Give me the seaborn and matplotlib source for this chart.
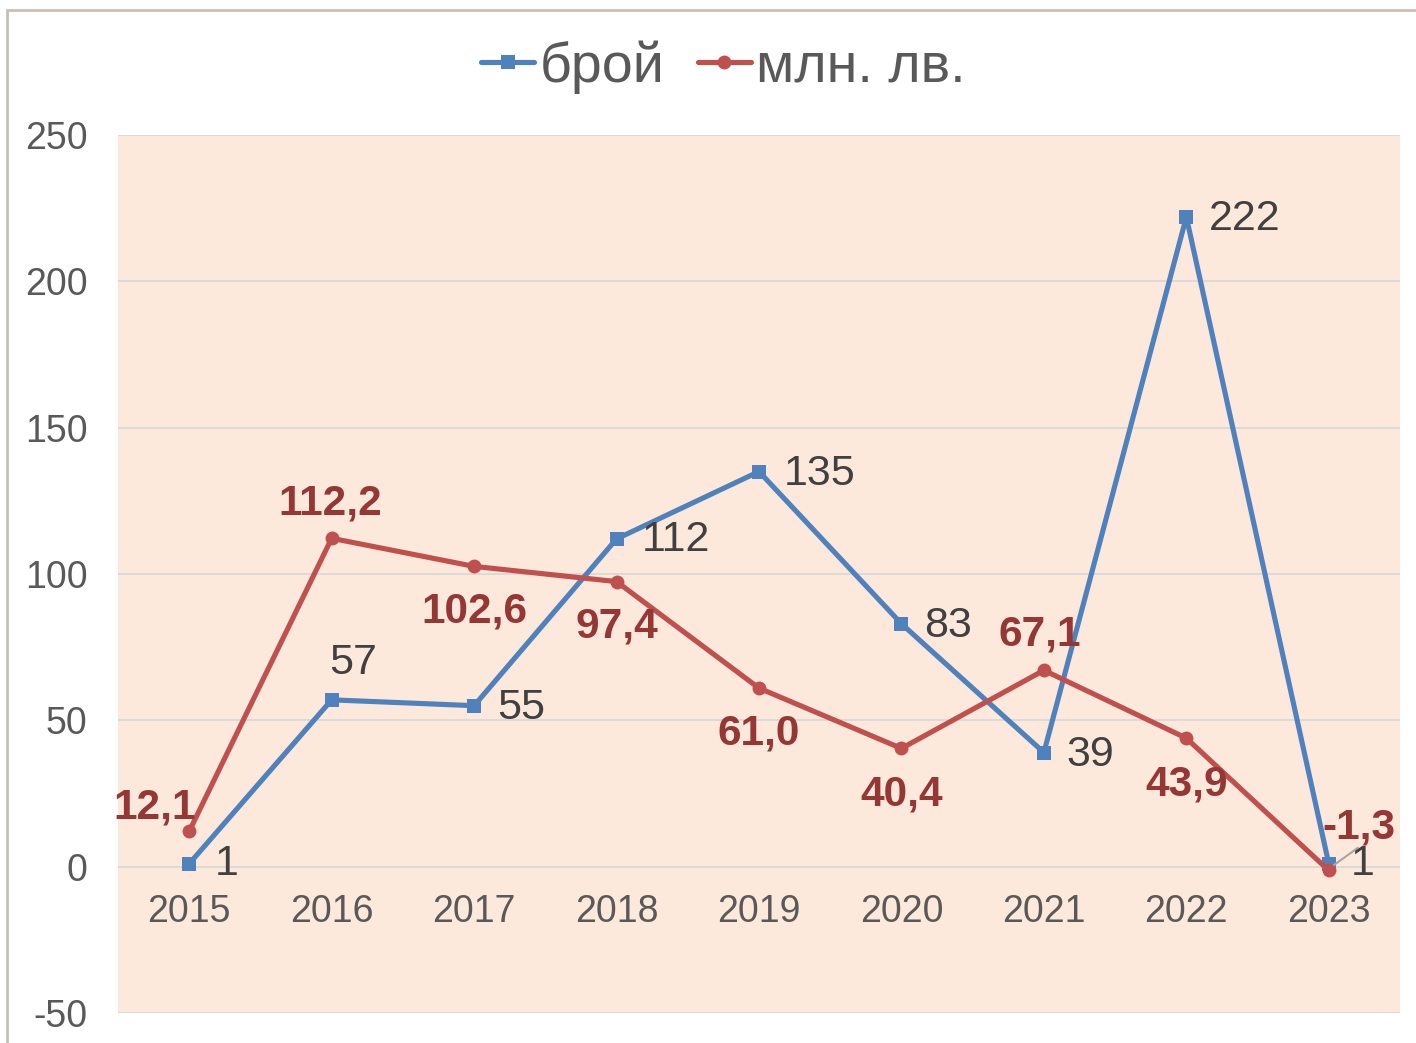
import matplotlib
matplotlib.use("Agg")
import matplotlib.pyplot as plt
import matplotlib.patches as mpatches
import pandas as pd
import seaborn as sns

# --------------------------------------------------------------
# Data
# --------------------------------------------------------------
years = [2015, 2016, 2017, 2018, 2019, 2020, 2021, 2022, 2023]
count_values = [1, 57, 55, 112, 135, 83, 39, 222, 1]
amount_values = [12.1, 112.2, 102.6, 97.4, 61.0, 40.4, 67.1, 43.9, -1.3]
count_name = "брой"
amount_name = "млн. лв."
y_ticks = [-50, 0, 50, 100, 150, 200, 250]

blue = "#4F81BD"
red = "#C0504D"
label_red = "#953735"
text_gray = "#595959"
label_gray = "#404040"

df = pd.DataFrame({"year": years, count_name: count_values, amount_name: amount_values})

# --------------------------------------------------------------
# Figure
# --------------------------------------------------------------
sns.set_style("white")
plt.rcParams["font.family"] = ["Liberation Sans", "DejaVu Sans"]
plt.rcParams["axes.unicode_minus"] = False

fig = plt.figure(figsize=(14.16, 10.43), dpi=100)
ax = fig.add_axes([118 / 1416, 30 / 1043, 1282 / 1416, 878 / 1043])
ax.set_facecolor("#FDE9DB")

sns.lineplot(data=df, x="year", y=count_name, ax=ax, color=blue, linewidth=3.7,
             marker="s", markersize=10, markeredgewidth=0, label=count_name, zorder=3)
sns.lineplot(data=df, x="year", y=amount_name, ax=ax, color=red, linewidth=3.7,
             marker="o", markersize=10, markeredgewidth=0, label=amount_name, zorder=4)

ax.set_xlim(2014.5, 2023.5)
ax.set_ylim(-50, 250)
ax.set_yticks(y_ticks)
ax.set_xticks(years)
ax.set_xticklabels([str(y) for y in years])
ax.set_xlabel("")
ax.set_ylabel("")
ax.grid(axis="y", color="#D9D9D9", linewidth=1.3)
ax.grid(axis="x", visible=False)
ax.set_axisbelow(True)

for s in ax.spines.values():
    s.set_visible(False)
ax.spines["bottom"].set_position(("data", 0))
ax.tick_params(axis="x", length=0, pad=20, labelsize=27, labelcolor=text_gray)
ax.tick_params(axis="y", length=0, pad=22, labelsize=27, labelcolor=text_gray)

# data labels, offsets in pixels -> points
px = 0.72
count_offsets = [(26, 0), (21, 37), (23, -2), (25, -1), (25, -2), (23, -2), (23, -2), (23, -2), None]
for x, v, off in zip(years, count_values, count_offsets):
    if off is None:
        continue
    ha = "center" if off == (21, 37) else "left"
    ax.annotate(str(v), (x, v), xytext=(off[0] * px, off[1] * px), textcoords="offset points",
                ha=ha, va="center", fontsize=31, color=label_gray, zorder=6)

# last point with leader line
ax.annotate(str(count_values[-1]), (years[-1], count_values[-1]), xytext=(34 * px, 0),
            textcoords="offset points", ha="center", va="center", fontsize=31, color=label_gray,
            zorder=6)
ax.annotate("", (years[-1] + 0.02, count_values[-1] - 1), xytext=(years[-1] + 0.22, 7),
            arrowprops=dict(arrowstyle="-", color="#A6A6A6", lw=1.5), zorder=5)

amount_offsets = [(-35, 24), (-1, 35), (0, -45), (0, -45), (0, -45), (0, -46), (-4, 36), (0, -46), (30, 43)]
for x, v, off in zip(years, amount_values, amount_offsets):
    ax.annotate(f"{v:.1f}".replace(".", ","), (x, v), xytext=(off[0] * px, off[1] * px),
                textcoords="offset points", ha="center", va="center", fontsize=30.5,
                fontweight="bold", color=label_red, zorder=7)

ax.get_legend().remove()
handles, labels = ax.get_legend_handles_labels()
fig.legend(handles, labels, loc="center", bbox_to_anchor=(0.511, 1 - 67 / 1043), ncol=2,
           frameon=False, fontsize=40, handlelength=0.95, handletextpad=0.1,
           columnspacing=0.6, labelcolor=text_gray)

# outer chart frame
frame = mpatches.Rectangle((7 / 1416, -0.1), 1.2, 1.1 - 10 / 1043, transform=fig.transFigure,
                           fill=False, edgecolor="#C9BFB8", linewidth=2)
fig.add_artist(frame)

plt.savefig("out.png", dpi=100)
